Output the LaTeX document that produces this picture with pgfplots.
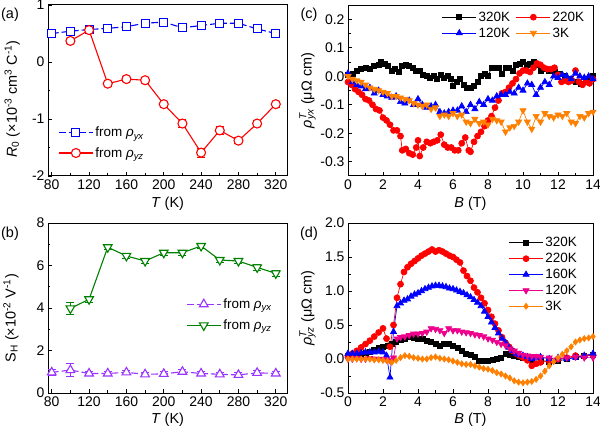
\documentclass[border=0pt]{standalone}
\usepackage{fontspec}
\setmainfont{Liberation Sans}
\usepackage{pgfplots}
\pgfplotsset{compat=1.18}

\definecolor{cpurple}{RGB}{153,51,255}
\definecolor{cgreen}{RGB}{0,128,0}
\definecolor{corange}{RGB}{255,128,0}

\pgfplotsset{
  panel/.style={
    scale only axis, anchor=south west,
    tick align=inside, tick pos=left,
    axis line style={line width=1bp},
    every tick/.style={black, line width=0.8bp},
    major tick length=4bp, minor tick length=2.5bp,
    tick label style={font=\fontsize{14}{14}\selectfont},
    label style={font=\fontsize{14.5}{16}\selectfont},
    /pgf/number format/assume math mode=true,
    legend style={draw=none, fill=none, font=\fontsize{13.5}{15}\selectfont},
    legend cell align=left,
    legend image code/.code={\draw[mark repeat=2,mark phase=2,##1] plot coordinates {(0bp,0bp) (17bp,0bp) (34bp,0bp)};},
    xlabel style={at={(axis description cs:0.5,-0.16)}, anchor=center},
  },
  ebar/.style={error bars/.cd, y dir=both, y explicit,
    error bar style={line width=0.8bp, solid},
    error mark options={rotate=90, mark size=4bp, line width=0.8bp, solid}},
  longdash/.style={dash pattern=on 7bp off 3bp},
}

\begin{document}
\begin{tikzpicture}

% (a)
\begin{axis}[panel, at={(48bp,257bp)}, width=239bp, height=171bp,
  xmin=76, xmax=332, ymin=-2, ymax=1,
  xtick={80,120,...,320}, minor x tick num=1,
  ytick={-2,-1,0,1}, yticklabels={-2,-1,0,1}, minor y tick num=1,
  xlabel={\textit{T} (K)},
  ylabel={\textit{R}\textsubscript{0} (×10\textsuperscript{-3} cm\textsuperscript{3} C\textsuperscript{-1})},
  ylabel style={at={(axis description cs:-0.15,0.45)}, anchor=center},
  legend style={at={(axis description cs:0.03,0.31)}, anchor=north west, row sep=5bp},
]
\addplot[blue, longdash, line width=1.1bp, mark=square*, mark size=4bp, mark options={solid, fill=white}, ebar] coordinates {
  (80,0.50) +- (0,0.03) (100,0.54) +- (0,0.03) (120,0.57) +- (0,0.03)
  (140,0.59) +- (0,0.03) (160,0.62) +- (0,0.03) (180,0.68) +- (0,0.04)
  (200,0.70) +- (0,0.04) (220,0.60) +- (0,0.03) (240,0.64) +- (0,0.03)
  (260,0.68) +- (0,0.04) (280,0.68) +- (0,0.04) (300,0.58) +- (0,0.03)
  (320,0.50) +- (0,0.03)
};
\addlegendentry{from \textit{ρ}\textsubscript{\textit{yx}}}
\addplot[red, line width=1.1bp, mark=*, mark size=4.5bp, mark options={fill=white}, ebar] coordinates {
  (100,0.37) +- (0,0.04) (120,0.56) +- (0,0.04) (140,-0.38) +- (0,0.04)
  (160,-0.30) +- (0,0.04) (180,-0.32) +- (0,0.04) (200,-0.74) +- (0,0.05)
  (220,-1.08) +- (0,0.07) (240,-1.59) +- (0,0.08) (260,-1.20) +- (0,0.07)
  (280,-1.38) +- (0,0.05) (300,-1.08) +- (0,0.05) (320,-0.74) +- (0,0.05)
};
\addlegendentry{from \textit{ρ}\textsubscript{\textit{yz}}}
\end{axis}

% (b)
\begin{axis}[panel, at={(48bp,40bp)}, width=239bp, height=170bp,
  xmin=76, xmax=332, ymin=0, ymax=8,
  xtick={80,120,...,320}, minor x tick num=1,
  ytick={0,2,4,6,8}, yticklabels={0,2,4,6,8}, minor y tick num=1,
  xlabel={\textit{T} (K)},
  ylabel={S\textsubscript{H} (×10\textsuperscript{-2} V\textsuperscript{-1})},
  ylabel style={at={(axis description cs:-0.155,0.44)}, anchor=center},
  legend style={at={(axis description cs:0.565,0.58)}, anchor=north west, row sep=6bp},
]
\addplot[cpurple, longdash, line width=1.1bp, mark=triangle*, mark size=5bp, mark options={solid, fill=white}, ebar] coordinates {
  (80,0.97) +- (0,0.15) (100,1.08) +- (0,0.3) (120,0.92) +- (0,0.1)
  (140,0.92) +- (0,0.1) (160,0.97) +- (0,0.1) (180,0.88) +- (0,0.1)
  (200,0.90) +- (0,0.1) (220,1.00) +- (0,0.1) (240,0.92) +- (0,0.1)
  (260,0.88) +- (0,0.1) (280,0.85) +- (0,0.1) (300,0.95) +- (0,0.1)
  (320,0.92) +- (0,0.1)
};
\addlegendentry{from \textit{ρ}\textsubscript{\textit{yx}}}
\addplot[cgreen, line width=1.1bp, mark=triangle*, mark size=5bp, mark options={rotate=180, fill=white}, ebar] coordinates {
  (100,3.98) +- (0,0.3) (120,4.41) +- (0,0.15) (140,6.86) +- (0,0.12)
  (160,6.45) +- (0,0.12) (180,6.21) +- (0,0.12) (200,6.60) +- (0,0.12)
  (220,6.60) +- (0,0.12) (240,6.92) +- (0,0.12) (260,6.26) +- (0,0.12)
  (280,6.21) +- (0,0.12) (300,5.91) +- (0,0.12) (320,5.63) +- (0,0.12)
};
\addlegendentry{from \textit{ρ}\textsubscript{\textit{yz}}}
\end{axis}

% (c)
\begin{axis}[panel, at={(348bp,257bp)}, width=245bp, height=171bp,
  xmin=0, xmax=14, ymin=-0.35, ymax=0.25,
  xtick={0,2,...,14}, minor x tick num=1,
  ytick={-0.3,-0.2,-0.1,0,0.1,0.2}, yticklabels={-0.3,-0.2,-0.1,0.0,0.1,0.2},
  minor y tick num=1,
  xlabel={\textit{B} (T)},
  ylabel={\textit{ρ}\rlap{\textsuperscript{\textit{T}}}\textsubscript{\textit{yx}} (μΩ cm)},
  ylabel style={at={(axis description cs:-0.165,0.5)}, anchor=center},
  legend columns=2,
  legend style={at={(axis description cs:0.985,0.985)}, anchor=north east, row sep=1bp,
    /tikz/every even column/.append style={column sep=4bp}},
]
\addplot[black, line width=0.7bp, mark=square*, mark size=2.5bp] coordinates {
  (0,0.005) (0.25,0.01) (0.5,0.02) (0.75,0.025) (1.0,0.03) (1.25,0.025) (1.5,0.035)
  (1.75,0.04) (1.9,0.05) (2.1,0.045) (2.3,0.035) (2.5,0.02) (2.7,0.025) (2.9,0.015)
  (3.1,0.035) (3.3,0.04) (3.5,0.035) (3.7,0.03) (3.9,0.02) (4.1,0.02) (4.3,0.005)
  (4.5,0.0) (4.7,-0.005) (4.9,0.0) (5.1,-0.01) (5.3,0.005) (5.5,-0.005) (5.7,0.0)
  (5.9,-0.01) (6.0,-0.035) (6.2,-0.02) (6.4,-0.01) (6.6,-0.03) (6.8,-0.04) (7.0,-0.04)
  (7.2,-0.035) (7.4,-0.02) (7.6,0.0) (7.8,0.01) (8.0,0.0) (8.2,0.03) (8.4,0.03)
  (8.6,0.03) (8.8,0.01) (9.0,0.03) (9.2,0.03) (9.4,0.02) (9.6,0.04) (9.8,0.045)
  (10.0,0.05) (10.2,0.04) (10.4,0.045) (10.6,0.05) (10.8,0.04) (11.0,0.02) (11.2,0.025)
  (11.5,0.02) (11.8,0.015) (12.1,0.01) (12.4,0.0) (12.7,-0.01) (13.0,-0.02) (13.3,-0.025)
  (13.6,-0.01) (13.9,-0.005) (14,0.0)
};
\addlegendentry{320K}
\addplot[red, line width=0.7bp, mark=*, mark size=3bp] coordinates {
  (0,-0.02) (0.2,-0.03) (0.4,-0.045) (0.6,-0.055) (0.8,-0.065) (1.0,-0.08) (1.2,-0.085)
  (1.4,-0.1) (1.6,-0.115) (1.8,-0.12) (2.0,-0.145) (2.2,-0.155) (2.4,-0.17) (2.6,-0.19)
  (2.8,-0.19) (3.0,-0.21) (3.1,-0.26) (3.3,-0.255) (3.5,-0.27) (3.7,-0.275) (3.9,-0.25)
  (4.0,-0.225) (4.1,-0.28) (4.3,-0.25) (4.5,-0.23) (4.7,-0.235) (4.9,-0.23) (5.1,-0.225)
  (5.3,-0.205) (5.5,-0.24) (5.7,-0.25) (5.9,-0.25) (6.1,-0.26) (6.3,-0.26) (6.5,-0.235)
  (6.7,-0.215) (6.9,-0.26) (7.0,-0.265) (7.2,-0.23) (7.4,-0.21) (7.6,-0.195) (7.8,-0.175)
  (8.0,-0.155) (8.2,-0.14) (8.4,-0.11) (8.6,-0.085) (8.8,-0.06) (9.0,-0.055) (9.2,-0.04)
  (9.4,-0.025) (9.6,-0.01) (9.8,0.01) (10.0,0.02) (10.2,0.02) (10.4,0.015) (10.6,0.03)
  (10.8,0.045) (11.0,0.04) (11.2,0.03) (11.4,0.025) (11.6,0.025) (11.8,0.03) (12.0,0.005)
  (12.2,-0.02) (12.4,-0.015) (12.6,-0.02) (12.8,-0.015) (13.0,0.02) (13.2,-0.02)
  (13.4,-0.03) (13.6,-0.02) (13.8,-0.025) (14,-0.01)
};
\addlegendentry{220K}
\addplot[blue, line width=0.7bp, mark=triangle*, mark size=3.5bp] coordinates {
  (0,0.01) (0.25,-0.02) (0.5,-0.03) (0.75,-0.035) (1.0,-0.045) (1.25,-0.04) (1.5,-0.06)
  (1.75,-0.05) (2.0,-0.065) (2.25,-0.07) (2.5,-0.075) (2.75,-0.07) (3.0,-0.09) (3.25,-0.095)
  (3.5,-0.085) (3.75,-0.1) (4.0,-0.08) (4.25,-0.1) (4.5,-0.11) (4.75,-0.105) (5.0,-0.1)
  (5.25,-0.125) (5.5,-0.13) (5.75,-0.125) (6.0,-0.12) (6.25,-0.12) (6.5,-0.105) (6.75,-0.125)
  (7.0,-0.1) (7.25,-0.115) (7.5,-0.09) (7.75,-0.1) (8.0,-0.08) (8.25,-0.085) (8.5,-0.07)
  (8.75,-0.065) (9.0,-0.065) (9.25,-0.055) (9.5,-0.06) (9.75,-0.04) (10.0,-0.05)
  (10.25,-0.025) (10.5,-0.03) (10.75,-0.065) (11.0,-0.04) (11.25,-0.02) (11.5,-0.03)
  (11.75,0.0) (12.0,-0.005) (12.25,0.005) (12.5,0.0) (12.75,-0.01) (13.0,0.01) (13.25,0.0)
  (13.5,-0.005) (13.75,0.0) (14,-0.01)
};
\addlegendentry{120K}
\addplot[corange, line width=0.7bp, mark=triangle*, mark size=3.5bp, mark options={rotate=180}] coordinates {
  (0,0.0) (0.25,-0.01) (0.5,-0.015) (0.75,-0.02) (1.0,-0.03) (1.25,-0.04) (1.5,-0.045)
  (1.75,-0.05) (2.0,-0.055) (2.25,-0.06) (2.5,-0.07) (2.75,-0.07) (3.0,-0.075) (3.25,-0.08)
  (3.5,-0.085) (3.75,-0.095) (4.0,-0.1) (4.25,-0.105) (4.5,-0.1) (4.75,-0.115) (5.0,-0.11)
  (5.25,-0.14) (5.5,-0.135) (5.75,-0.14) (6.0,-0.13) (6.25,-0.14) (6.5,-0.135) (6.75,-0.16)
  (7.0,-0.165) (7.25,-0.15) (7.5,-0.165) (7.75,-0.16) (8.0,-0.17) (8.25,-0.15) (8.5,-0.155)
  (8.75,-0.16) (9.0,-0.195) (9.25,-0.18) (9.5,-0.175) (9.75,-0.16) (10.0,-0.12) (10.25,-0.16)
  (10.5,-0.185) (10.75,-0.14) (11.0,-0.16) (11.25,-0.13) (11.5,-0.14) (11.75,-0.145)
  (12.0,-0.135) (12.25,-0.14) (12.5,-0.13) (12.75,-0.16) (13.0,-0.165) (13.25,-0.14)
  (13.5,-0.145) (13.75,-0.13) (14,-0.125)
};
\addlegendentry{3K}
\end{axis}

% (d)
\begin{axis}[panel, at={(348bp,40bp)}, width=245bp, height=170bp,
  xmin=0, xmax=14, ymin=-0.5, ymax=2.0,
  xtick={0,2,...,14}, minor x tick num=1,
  ytick={-0.5,0,0.5,1,1.5,2}, yticklabels={-0.5,0.0,0.5,1.0,1.5,2.0},
  minor y tick num=1,
  xlabel={\textit{B} (T)},
  ylabel={\textit{ρ}\rlap{\textsuperscript{\textit{T}}}\textsubscript{\textit{yz}} (μΩ cm)},
  ylabel style={at={(axis description cs:-0.165,0.5)}, anchor=center},
  legend style={at={(axis description cs:0.955,0.94)}, anchor=north east, row sep=1bp},
]
\addplot[black, line width=0.7bp, mark=square*, mark size=2.5bp] coordinates {
  (0,0.05) (0.25,0.05) (0.5,0.06) (0.75,0.07) (1.0,0.09) (1.25,0.11) (1.5,0.13) (1.75,0.16)
  (2.0,0.18) (2.25,0.2) (2.5,0.22) (2.75,0.25) (3.0,0.28) (3.25,0.3) (3.5,0.32) (3.75,0.31)
  (4.0,0.3) (4.25,0.29) (4.5,0.27) (4.75,0.25) (5.0,0.22) (5.25,0.2) (5.5,0.23) (5.75,0.22)
  (6.0,0.2) (6.25,0.16) (6.5,0.12) (6.75,0.08) (7.0,0.06) (7.25,0.03) (7.5,-0.02) (7.75,-0.03)
  (8.0,-0.02) (8.25,-0.01) (8.5,0.0) (8.75,0.02) (9.0,0.08) (9.25,0.06) (9.5,0.04) (9.75,0.03)
  (10.0,0.02) (10.5,-0.01) (11.0,-0.02) (11.5,-0.04) (12.0,-0.03) (12.5,0.0) (13.0,0.03)
  (13.5,0.04) (14,0.06)
};
\addlegendentry{320K}
\addplot[red, line width=0.7bp, mark=*, mark size=3bp] coordinates {
  (0,0.05) (0.25,0.08) (0.5,0.12) (0.75,0.17) (1.0,0.22) (1.25,0.27) (1.5,0.33) (1.75,0.39)
  (2.0,0.45) (2.2,0.3) (2.4,0.18) (2.6,0.5) (2.8,0.9) (3.0,1.1) (3.2,1.28) (3.4,1.35)
  (3.6,1.4) (3.8,1.44) (4.0,1.48) (4.2,1.52) (4.4,1.55) (4.6,1.58) (4.8,1.61) (5.0,1.58)
  (5.2,1.6) (5.4,1.58) (5.6,1.55) (5.8,1.52) (6.0,1.5) (6.2,1.46) (6.4,1.42) (6.6,1.3)
  (6.8,1.22) (7.0,1.15) (7.2,1.05) (7.4,0.98) (7.6,0.9) (7.8,0.82) (8.0,0.72) (8.2,0.62)
  (8.4,0.52) (8.6,0.42) (8.8,0.32) (9.0,0.24) (9.2,0.18) (9.4,0.12) (9.6,0.08) (9.8,0.05)
  (10.0,0.02) (10.25,-0.02) (10.5,-0.1) (10.75,-0.07) (11.0,-0.05) (11.5,-0.03) (12.0,0.0)
  (12.5,0.02) (13.0,0.05) (13.5,0.04) (14.0,0.06)
};
\addlegendentry{220K}
\addplot[blue, line width=0.7bp, mark=triangle*, mark size=3.5bp] coordinates {
  (0,0.08) (0.25,0.08) (0.5,0.08) (0.75,0.09) (1.0,0.1) (1.25,0.1) (1.5,0.1) (1.75,0.11)
  (2.0,0.1) (2.2,0.05) (2.4,-0.27) (2.6,0.4) (2.8,0.78) (3.0,0.82) (3.2,0.86) (3.4,0.88)
  (3.6,0.92) (3.8,0.95) (4.0,0.97) (4.2,1.0) (4.4,1.03) (4.6,1.05) (4.8,1.07) (5.0,1.08)
  (5.2,1.08) (5.4,1.07) (5.6,1.06) (5.8,1.04) (6.0,1.03) (6.2,1.01) (6.4,0.99) (6.6,0.97)
  (6.8,0.94) (7.0,0.91) (7.2,0.87) (7.4,0.83) (7.6,0.78) (7.8,0.7) (8.0,0.62) (8.2,0.54)
  (8.4,0.46) (8.6,0.38) (8.8,0.3) (9.0,0.24) (9.2,0.17) (9.4,0.12) (9.6,0.08) (9.8,0.06)
  (10.0,0.05) (10.25,0.03) (10.5,0.0) (10.75,0.02) (11.0,0.03) (11.5,0.0) (12.0,0.02)
  (12.5,0.0) (13.0,0.02) (13.5,0.05) (14,0.08)
};
\addlegendentry{160K}
\addplot[magenta, line width=0.7bp, mark=triangle*, mark size=3.5bp, mark options={rotate=180}] coordinates {
  (0,0.0) (0.25,0.0) (0.5,0.01) (0.75,0.0) (1.0,0.0) (1.25,0.01) (1.5,0.0) (1.75,0.0)
  (2.0,0.0) (2.2,-0.01) (2.4,-0.02) (2.6,0.02) (2.8,0.3) (3.0,0.32) (3.25,0.33) (3.5,0.35)
  (3.75,0.37) (4.0,0.37) (4.25,0.38) (4.5,0.4) (4.75,0.45) (5.0,0.44) (5.25,0.42) (5.5,0.38)
  (5.75,0.45) (6.0,0.42) (6.25,0.42) (6.5,0.4) (6.75,0.39) (7.0,0.38) (7.25,0.36) (7.5,0.35)
  (7.75,0.33) (8.0,0.3) (8.25,0.28) (8.5,0.25) (8.75,0.22) (9.0,0.2) (9.25,0.15) (9.5,0.12)
  (9.75,0.09) (10.0,0.06) (10.25,0.05) (10.5,0.04) (10.75,0.04) (11.0,0.03) (11.5,0.02)
  (12.0,0.0) (12.5,0.02) (13.0,0.03) (13.5,0.02) (14,0.02)
};
\addlegendentry{120K}
\addplot[corange, line width=0.7bp, mark=diamond*, mark size=3bp] coordinates {
  (0,0.0) (0.25,0.0) (0.5,0.0) (0.75,0.0) (1.0,0.0) (1.25,0.0) (1.5,-0.01) (1.75,-0.01)
  (2.0,-0.02) (2.25,-0.03) (2.5,-0.05) (2.75,-0.02) (3.0,0.02) (3.25,0.05) (3.5,0.04)
  (3.75,0.02) (4.0,0.01) (4.25,0.0) (4.5,0.0) (4.75,0.02) (5.0,0.03) (5.25,0.01) (5.5,0.0)
  (5.75,-0.01) (6.0,-0.03) (6.25,-0.05) (6.5,-0.07) (6.75,-0.08) (7.0,-0.08) (7.25,-0.1)
  (7.5,-0.12) (7.75,-0.14) (8.0,-0.15) (8.25,-0.17) (8.5,-0.2) (8.75,-0.22) (9.0,-0.25)
  (9.25,-0.28) (9.5,-0.32) (9.75,-0.34) (10.0,-0.35) (10.25,-0.34) (10.5,-0.33) (10.75,-0.3)
  (11.0,-0.25) (11.25,-0.18) (11.5,-0.1) (11.75,-0.04) (12.0,0.02) (12.25,0.07) (12.5,0.12)
  (12.75,0.18) (13.0,0.25) (13.25,0.28) (13.5,0.3) (13.75,0.31) (14,0.33)
};
\addlegendentry{3K}
\end{axis}

\node[font=\fontsize{14.5}{16}\selectfont] at (10bp,418bp) {(a)};
\node[font=\fontsize{14.5}{16}\selectfont] at (10bp,199bp) {(b)};
\node[font=\fontsize{14.5}{16}\selectfont] at (309bp,418bp) {(c)};
\node[font=\fontsize{14.5}{16}\selectfont] at (309bp,199bp) {(d)};

\pgfresetboundingbox
\path[use as bounding box] (0,0) rectangle (600bp,433bp);
\end{tikzpicture}
\end{document}
